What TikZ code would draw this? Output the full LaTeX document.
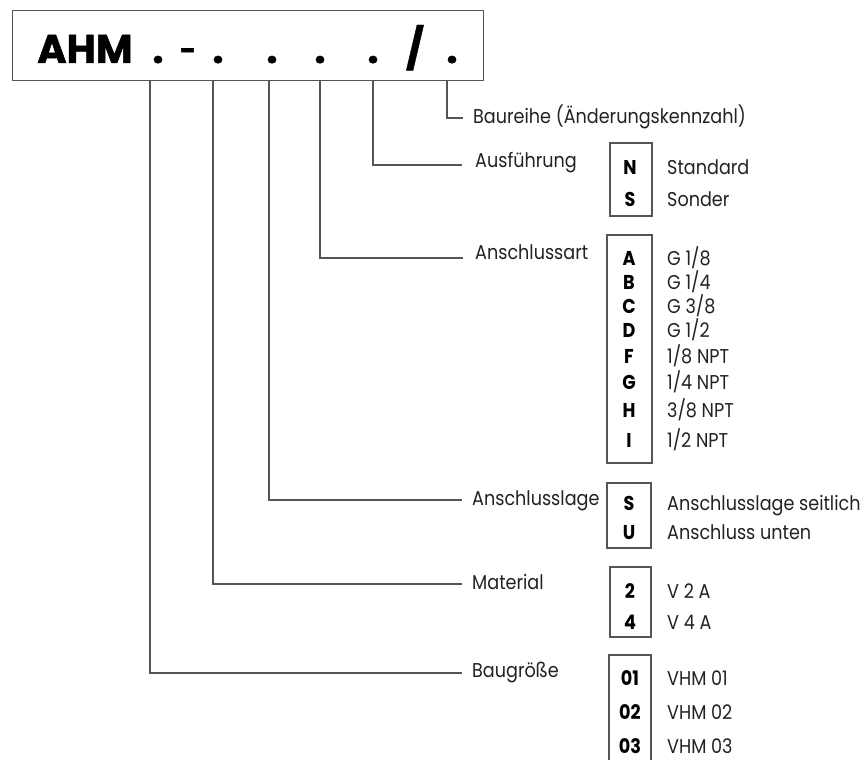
\documentclass[tikz,border=0pt]{standalone}
\usepackage{fontspec}
\setmainfont{Poppins}[FakeStretch=0.88]
\newfontfamily\topfont{Poppins}[BoldFeatures={FakeBold=1.2}]
\definecolor{lc}{HTML}{555555}
\definecolor{tc}{HTML}{222222}
\begin{document}
\begin{tikzpicture}[x=1pt,y=-1pt,
  ln/.style={draw=lc, line width=1.4pt},
  bx/.style={draw=lc, line width=1.3pt},
  lab/.style={anchor=base west, inner sep=0pt, text=tc, font=\fontsize{20}{24}\selectfont},
  keyc/.style={anchor=base, inner sep=0pt, text=black, font=\bfseries\fontsize{20}{22}\selectfont},
  val/.style={anchor=base west, inner sep=0pt, text=tc, font=\fontsize{20}{22}\selectfont},
  topch/.style={anchor=base, inner sep=0pt, text=black, font=\topfont\bfseries\fontsize{40}{40}\selectfont}]
\useasboundingbox (0,0) rectangle (865,760);
% top box
\node (top) [bx, line width=1.4pt, anchor=north west, inner sep=0pt, minimum width=471pt, minimum height=70pt] at (12,10) {};
\node (ahm) [topch, anchor=base west] at (37,63) {AHM};
\node (c1) [topch] at (158,63) {.};
\node (c2) [topch, font=\topfont\bfseries\fontsize{28}{28}\selectfont] at (188,60) {-};
\node (c3) [topch] at (218,63) {.};
\node (c4) [topch] at (272,63) {.};
\node (c5) [topch] at (320,63) {.};
\node (c6) [topch] at (373,63) {.};
\node (c7) [topch] at (415,63) {/};
\node (c8) [topch] at (452,63) {.};
% line start points on box bottom
\coordinate (s1) at (447,80);
\coordinate (s2) at (373,80);
\coordinate (s3) at (320,80);
\coordinate (s4) at (269,80);
\coordinate (s5) at (213,80);
\coordinate (s6) at (150,80);
% line end points
\coordinate (e1) at (463,118);
\coordinate (e2) at (462,165);
\coordinate (e3) at (463,258);
\coordinate (e4) at (462,500);
\coordinate (e5) at (462,584);
\coordinate (e6) at (462,673);
% labels
\node (l1) [lab] at (473,123) {Baureihe (Änderungskennzahl)};
\node (l2) [lab] at (475,167) {Ausführung};
\node (l3) [lab] at (475,259) {Anschlussart};
\node (l4) [lab] at (472,505) {Anschlusslage};
\node (l5) [lab] at (472,589) {Material};
\node (l6) [lab] at (472,677) {Baugröße};
% connectors
\draw[ln] (s1) |- (e1);
\draw[ln] (s2) |- (e2);
\draw[ln] (s3) |- (e3);
\draw[ln] (s4) |- (e4);
\draw[ln] (s5) |- (e5);
\draw[ln] (s6) |- (e6);
% Ausfuehrung box
\draw[bx] (610,143) rectangle (652,216);
\node (kN) [keyc] at (630,174) {N}; \node (vN) [val] at (667,174) {Standard};
\node (kS) [keyc] at (630,206) {S}; \node (vS) [val] at (667,206) {Sonder};
% Anschlussart box
\draw[bx] (607,235) rectangle (652,463);
\node (kA) [keyc] at (629,265) {A}; \node (vA) [val] at (667,265) {G 1/8};
\node (kB) [keyc] at (629,289) {B}; \node (vB) [val] at (667,289) {G 1/4};
\node (kC) [keyc] at (629,313) {C}; \node (vC) [val] at (667,313) {G 3/8};
\node (kD) [keyc] at (629,337) {D}; \node (vD) [val] at (667,337) {G 1/2};
\node (kF) [keyc] at (629,363) {F}; \node (vF) [val] at (667,363) {1/8 NPT};
\node (kG) [keyc] at (629,389) {G}; \node (vG) [val] at (667,389) {1/4 NPT};
\node (kH) [keyc] at (629,417) {H}; \node (vH) [val] at (667,417) {3/8 NPT};
\node (kI) [keyc] at (629,447) {I}; \node (vI) [val] at (667,447) {1/2 NPT};
% Anschlusslage box
\draw[bx] (607,483) rectangle (651,548);
\node (kS2) [keyc] at (629,510) {S}; \node (vS2) [val] at (667,510) {Anschlusslage seitlich};
\node (kU) [keyc] at (629,539) {U}; \node (vU) [val] at (667,539) {Anschluss unten};
% Material box
\draw[bx] (610,567) rectangle (651,637);
\node (k2) [keyc] at (630,598) {2}; \node (v2) [val] at (667,598) {V 2 A};
\node (k4) [keyc] at (630,629) {4}; \node (v4) [val] at (667,629) {V 4 A};
% Baugroesse box
\draw[bx] (609,762) -- (609,655) -- (651,655) -- (651,762);
\node (k01) [keyc] at (630,685) {01}; \node (v01) [val] at (667,685) {VHM 01};
\node (k02) [keyc] at (630,719) {02}; \node (v02) [val] at (667,719) {VHM 02};
\node (k03) [keyc] at (630,753) {03}; \node (v03) [val] at (667,753) {VHM 03};
\end{tikzpicture}
\end{document}
